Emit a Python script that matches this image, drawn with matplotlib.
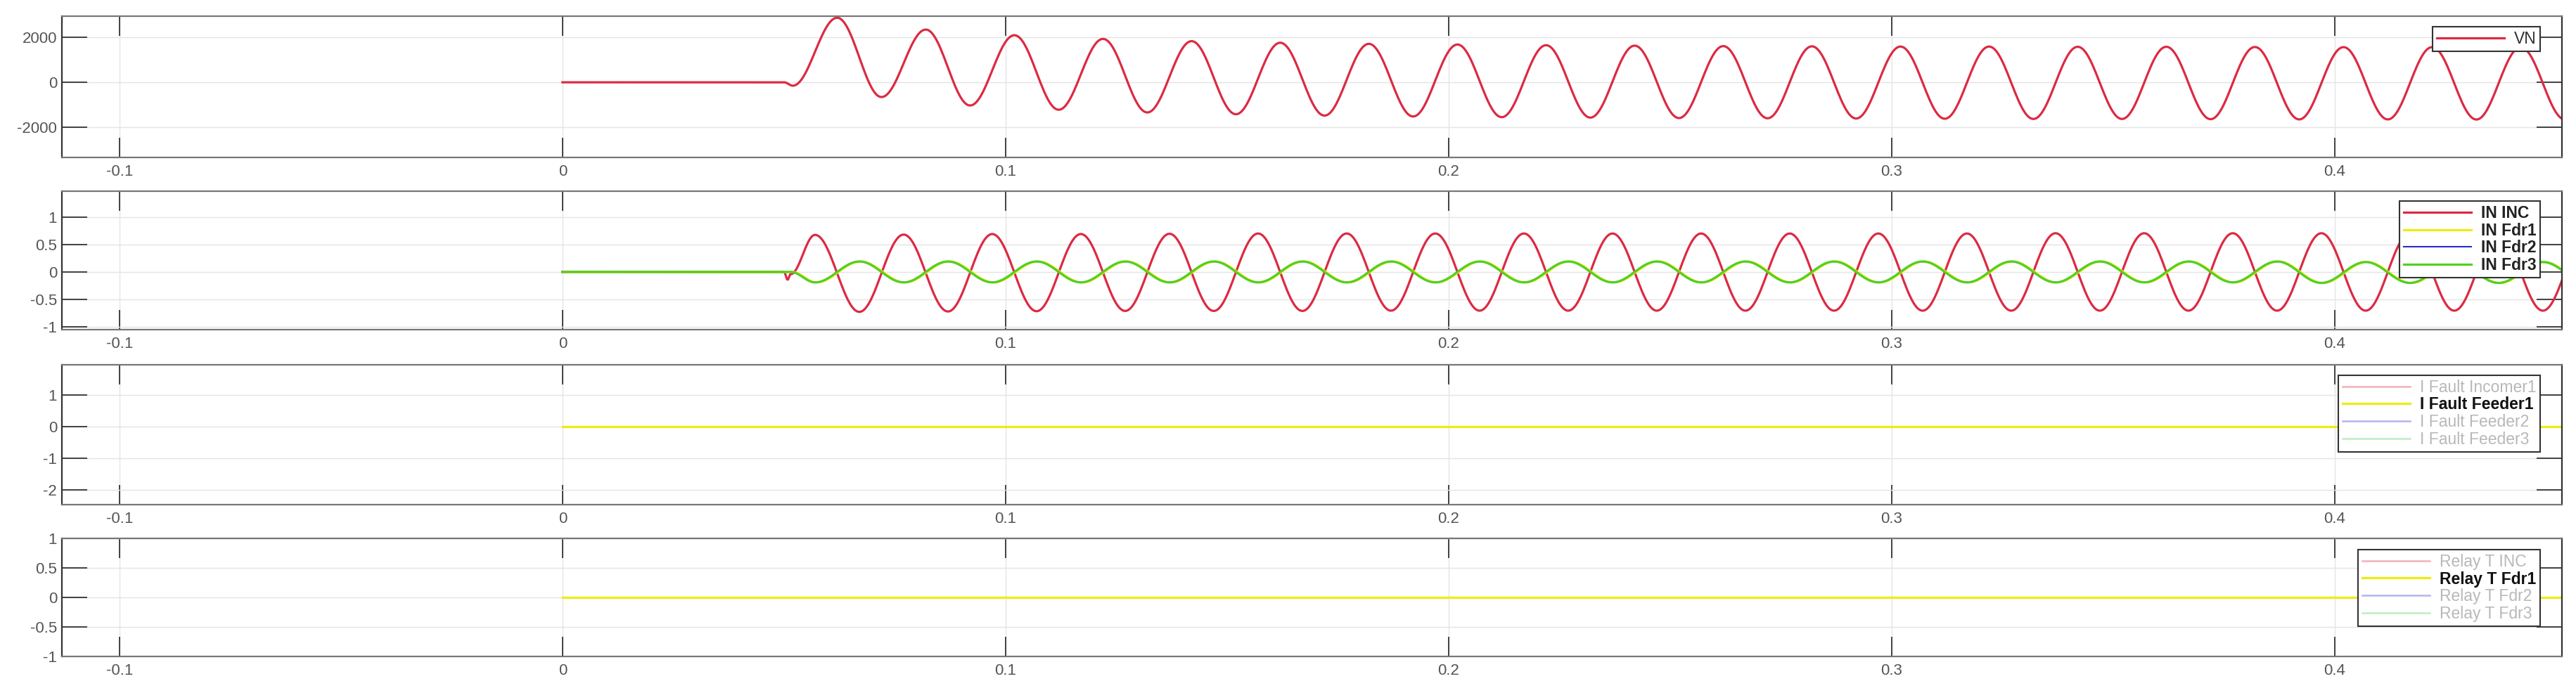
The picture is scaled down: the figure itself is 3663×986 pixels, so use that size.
import numpy as np
import matplotlib
matplotlib.use('Agg')
import matplotlib.pyplot as plt

plt.rcParams['font.family'] = ['Liberation Sans', 'DejaVu Sans']

############################## DATA ##############################

# VN: extrema of the neutral voltage (time in s, value in V)
t_vn = [0.0, 0.050, 0.052,
        0.062, 0.072, 0.082, 0.092, 0.102, 0.112, 0.122, 0.132, 0.142, 0.152,
        0.162, 0.172, 0.182, 0.192, 0.202, 0.212, 0.222, 0.232, 0.242, 0.252,
        0.262, 0.272, 0.282, 0.292, 0.302, 0.312, 0.322, 0.332, 0.342, 0.352,
        0.362, 0.372, 0.382, 0.392, 0.402, 0.412, 0.422, 0.432, 0.442, 0.452]
vn = [0, 0, -150,
      2870, -656, 2344, -1031, 2094, -1220, 1930, -1340, 1830, -1420,
      1760, -1480, 1710, -1520, 1680, -1550, 1650, -1570, 1630, -1590,
      1610, -1600, 1600, -1610, 1590, -1620, 1590, -1630, 1580, -1630,
      1580, -1640, 1570, -1650, 1565, -1650, 1565, -1655, 1560, -1655]

# IN INC: extrema of the incomer neutral current
t_in_inc = [0.0, 0.0500, 0.0508, 0.0515,
            0.057, 0.067, 0.077, 0.087, 0.097, 0.107, 0.117, 0.127, 0.137, 0.147,
            0.157, 0.167, 0.177, 0.187, 0.197, 0.207, 0.217, 0.227, 0.237, 0.247,
            0.257, 0.267, 0.277, 0.287, 0.297, 0.307, 0.317, 0.327, 0.337, 0.347,
            0.357, 0.367, 0.377, 0.387, 0.397, 0.407, 0.417, 0.427, 0.437, 0.447,
            0.457]
in_inc = [0, 0, -0.14, -0.04,
          0.675, -0.727, 0.68, -0.72, 0.69, -0.715, 0.69, -0.71, 0.695, -0.71,
          0.70, -0.71, 0.70, -0.705, 0.70, -0.705, 0.70, -0.705, 0.70, -0.705,
          0.70, -0.705, 0.70, -0.705, 0.70, -0.705, 0.70, -0.705, 0.705, -0.705,
          0.705, -0.705, 0.705, -0.705, 0.705, -0.705, 0.705, -0.705, 0.705, -0.705,
          0.705]

# IN Fdr1..3: extrema of the feeder neutral currents (they overlap in the plot)
t_in_fdr = [0.0, 0.0515,
            0.057, 0.067, 0.077, 0.087, 0.097, 0.107, 0.117, 0.127, 0.137, 0.147,
            0.157, 0.167, 0.177, 0.187, 0.197, 0.207, 0.217, 0.227, 0.237, 0.247,
            0.257, 0.267, 0.277, 0.287, 0.297, 0.307, 0.317, 0.327, 0.337, 0.347,
            0.357, 0.367, 0.377, 0.387, 0.397, 0.407, 0.417, 0.427, 0.437, 0.447,
            0.457]
in_fdr3 = [0, 0,
           -0.19, 0.19, -0.19, 0.19, -0.19, 0.19, -0.19, 0.19, -0.19, 0.19,
           -0.19, 0.19, -0.19, 0.19, -0.19, 0.19, -0.19, 0.19, -0.19, 0.19,
           -0.19, 0.19, -0.19, 0.19, -0.19, 0.19, -0.19, 0.19, -0.19, 0.19,
           -0.19, 0.19, -0.19, 0.19, -0.20, 0.18, -0.20, 0.18, -0.20, 0.18,
           -0.20]
in_fdr1 = in_fdr3
in_fdr2 = in_fdr3

# fault currents and relay trips: flat zero from t = 0
t_flat = [0.0, 0.46]
i_fault_inc = [0, 0]
i_fault_fdr1 = [0, 0]
i_fault_fdr2 = [0, 0]
i_fault_fdr3 = [0, 0]
relay_inc = [0, 0]
relay_fdr1 = [0, 0]
relay_fdr2 = [0, 0]
relay_fdr3 = [0, 0]

x_ticks = [-0.1, 0, 0.1, 0.2, 0.3, 0.4]
x_labels = ['-0.1', '0', '0.1', '0.2', '0.3', '0.4']

RED = '#dc2a42'
YELLOW = '#ecec12'
BLUE = '#2b2bc8'
GREEN = '#52d024'
PALE = ['#f3b0b8', YELLOW, '#b4b4ec', '#bdecc4']


# draw each half cycle between two read extrema as a cosine arc
def half_cos(tp, vp, n=30):
    s = np.linspace(0, 1, n)[1:]
    t_out, v_out = [tp[0]], [vp[0]]
    for i in range(len(tp) - 1):
        t_out.extend(tp[i] + (tp[i + 1] - tp[i]) * s)
        v_out.extend(vp[i] + (vp[i + 1] - vp[i]) * (1 - np.cos(np.pi * s)) / 2)
    return np.array(t_out), np.array(v_out)


############################## FIGURE ##############################

fig = plt.figure(figsize=(36.63, 9.86), dpi=100)
rects = [[0.02402, 0.77282, 0.97052, 0.20385],
         [0.02402, 0.52434, 0.97052, 0.19980],
         [0.02402, 0.27181, 0.97052, 0.20183],
         [0.02402, 0.05274, 0.97052, 0.17039]]
axes = [fig.add_axes(r) for r in rects]


def style(ax, yticks, ylabels, ylim):
    ax.set_xlim(-0.113, 0.4513)
    ax.set_ylim(*ylim)
    ax.set_xticks(x_ticks)
    ax.set_xticklabels(x_labels)
    ax.set_yticks(yticks)
    ax.set_yticklabels(ylabels)
    ax.grid(True, color='#e4e4e4', lw=1.0)
    ax.set_axisbelow(True)
    ax.tick_params(direction='in', top=True, right=True, width=1.3,
                   colors='#333333', labelcolor='#555555', labelsize=16)
    ax.tick_params(axis='x', length=20, pad=7)
    ax.tick_params(axis='y', length=26, pad=5)
    for side in ['left', 'right']:
        ax.spines[side].set_color('#333333')
        ax.spines[side].set_linewidth(1.6)
    for side in ['top', 'bottom']:
        ax.spines[side].set_color('#777777')
        ax.spines[side].set_linewidth(1.6)


def legend(ax, handles, top):
    leg = ax.legend(handles, [h.get_label() for h in handles], loc='upper right',
                    bbox_to_anchor=(0.9913, top), borderaxespad=0, fontsize=16.5,
                    handlelength=4.2, handletextpad=0.6, borderpad=0.25,
                    labelspacing=0.08, fancybox=False, framealpha=1)
    leg.get_frame().set_edgecolor('#333333')
    leg.get_frame().set_linewidth(1.5)
    return leg


# hidden series show up greyed in the legend, as in the original figure
def grey_legend(ax, handles, top):
    leg = legend(ax, handles, top)
    for i, (ln, txt) in enumerate(zip(leg.get_lines(), leg.get_texts())):
        ln.set_visible(True)
        ln.set_color(PALE[i])
        ln.set_linewidth(2.3 if i == 1 else 1.8)
        if handles[i].get_visible():
            txt.set_color('#111111')
            txt.set_fontweight('bold')
        else:
            txt.set_color('#b8b8b8')
    return leg


# --- VN ---
ax = axes[0]
tt, vv = half_cos(t_vn, vn)
h, = ax.plot(tt, vv, color=RED, lw=2.3, label='VN')
style(ax, [-2000, 0, 2000], ['-2000', '0', '2000'], (-3340, 2940))
leg = legend(ax, [h], 0.925)
leg.get_texts()[0].set_color('#333333')

# --- IN ---
ax = axes[1]
tt, vv = half_cos(t_in_inc, in_inc)
a1, = ax.plot(tt, vv, color=RED, lw=2.3, label='IN INC')
tt, vv = half_cos(t_in_fdr, in_fdr1)
a2, = ax.plot(tt + 0.0003, vv, color=YELLOW, lw=2.3, label='IN Fdr1')
tt, vv = half_cos(t_in_fdr, in_fdr2)
a3, = ax.plot(tt, vv, color=BLUE, lw=1.5, label='IN Fdr2')
tt, vv = half_cos(t_in_fdr, in_fdr3)
a4, = ax.plot(tt, vv, color=GREEN, lw=2.3, label='IN Fdr3')
style(ax, [-1, -0.5, 0, 0.5, 1], ['-1', '-0.5', '0', '0.5', '1'], (-1.05, 1.47))
leg = legend(ax, [a1, a2, a3, a4], 0.929)
for txt in leg.get_texts():
    txt.set_color('#222222')
    txt.set_fontweight('bold')

# --- I Fault ---
ax = axes[2]
h1, = ax.plot(t_flat, i_fault_inc, color=RED, label='I Fault Incomer1')
h3, = ax.plot(t_flat, i_fault_fdr2, color=BLUE, label='I Fault Feeder2')
h4, = ax.plot(t_flat, i_fault_fdr3, color=GREEN, label='I Fault Feeder3')
h2, = ax.plot(t_flat, i_fault_fdr1, color=YELLOW, lw=2.3, label='I Fault Feeder1')
for h in [h1, h3, h4]:
    h.set_visible(False)
style(ax, [-2, -1, 0, 1], ['-2', '-1', '0', '1'], (-2.48, 1.97))
grey_legend(ax, [h1, h2, h3, h4], 0.925)

# --- Relay ---
ax = axes[3]
r1, = ax.plot(t_flat, relay_inc, color=RED, label='Relay T INC')
r3, = ax.plot(t_flat, relay_fdr2, color=BLUE, label='Relay T Fdr2')
r4, = ax.plot(t_flat, relay_fdr3, color=GREEN, label='Relay T Fdr3')
r2, = ax.plot(t_flat, relay_fdr1, color=YELLOW, lw=2.3, label='Relay T Fdr1')
for h in [r1, r3, r4]:
    h.set_visible(False)
style(ax, [-1, -0.5, 0, 0.5, 1], ['-1', '-0.5', '0', '0.5', '1'], (-1, 1))
grey_legend(ax, [r1, r2, r3, r4], 0.905)

fig.savefig('out.png', dpi=100)
